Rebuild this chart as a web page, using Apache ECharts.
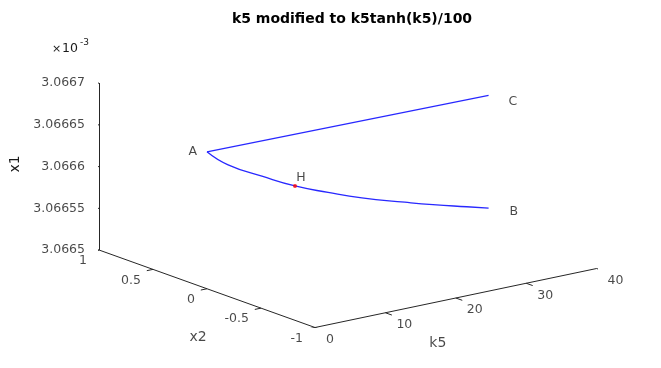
<!DOCTYPE html>
<html><head><meta charset="utf-8">
<script src="https://cdn.jsdelivr.net/npm/echarts@6/dist/echarts.min.js"></script>
<style>html,body{margin:0;padding:0;background:#fff}#c{width:661px;height:368px}</style>
</head><body><div id="c"></div>
<script>
// ---- data (x1 values in units of 1e-3) ----
const k5Lower = [0, 3, 7.8, 12.5, 17.2, 22, 28.1, 32.1, 36.9, 40];
const x2Lower = [0, 0, 0, 0, 0, 0, 0, 0, 0, 0];
const x1Lower = [3.066664, 3.066643, 3.066621, 3.066601, 3.066585, 3.066570, 3.066554, 3.066544, 3.066533, 3.066526];
const k5Upper = [0, 40];
const x2Upper = [0, 0];
const x1Upper = [3.066664, 3.066661];
const pointNames = ['A', 'B', 'C', 'H'];
const pointK5 = [0, 40, 40, 12.5];
const pointX2 = [0, 0, 0, 0];
const pointX1 = [3.066664, 3.066526, 3.066661, 3.066601];
const hopfK5 = [12.5], hopfX2 = [0], hopfX1 = [3.066601];
const k5Ticks = [0, 10, 20, 30, 40];
const x2Ticks = [1, 0.5, 0, -0.5, -1];
const x2TickLabels = ['1', '0.5', '0', '-0.5', '-1'];
const x1Ticks = [3.0665, 3.06655, 3.0666, 3.06665, 3.0667];
const x1TickLabels = ['3.0665', '3.06655', '3.0666', '3.06665', '3.0667'];
const k5Range = [0, 40], x2Range = [-1, 1], x1Range = [3.0665, 3.0667];

// ---- 3D view: screen-plane vectors for a unit step along each normalized axis ----
const U = [281.6, 59], V = [-216, 77.5], W = [0, 167];
function projN(u, v, w) { return [U[0]*u + V[0]*v + W[0]*w, U[1]*u + V[1]*v + W[1]*w]; }
function norm(val, r) { return (val - r[0]) / (r[1] - r[0]); }
function proj(k5, x2, x1) { return projN(norm(k5, k5Range), norm(x2, x2Range), norm(x1, x1Range)); }

const txt = '#1a1a1a';
const axisSegs = [
  [projN(0,1,0), projN(0,1,1)],
  [projN(0,0,0), projN(0,1,0)],
  [projN(0,0,0), projN(1,0,0)]
];
const tickSegs = [];
x1Ticks.forEach(t => { const w = norm(t, x1Range); tickSegs.push([projN(0,1,w), projN(-0.022,1,w)]); });
x2Ticks.forEach(t => { const v = norm(t, x2Range); tickSegs.push([projN(0,v,0), projN(-0.022,v,0)]); });
k5Ticks.forEach(t => { const u = norm(t, k5Range); tickSegs.push([projN(u,0,0), projN(u,-0.03,0)]); });

const font = 'DejaVu Sans';
function lab(pos, text, label) { return { value: pos, name: text, label: Object.assign({ show: true, formatter: '{b}', color: txt, fontFamily: font, fontSize: 12.5 }, label) }; }

const tickLabelData = [];
x1Ticks.forEach((t, i) => tickLabelData.push(lab(projN(0,1,norm(t,x1Range)), x1TickLabels[i], { position: 'left', distance: 14 })));
x2Ticks.forEach((t, i) => tickLabelData.push(lab(projN(0,norm(t,x2Range),0), x2TickLabels[i], { position: 'left', distance: 12, offset: [0, 11] })));
k5Ticks.forEach(t => tickLabelData.push(lab(projN(norm(t,k5Range),0,0), String(t), { position: 'right', distance: 11, offset: [0, 12] })));
tickLabelData.push(lab(projN(0,0.5,0), 'x2', { position: 'inside', offset: [-9, 49], fontSize: 14 }));
tickLabelData.push(lab(projN(0.5,0,0), 'k5', { position: 'inside', offset: [-18, 45], fontSize: 14 }));

const ptLabelCfg = {
  A: { position: 'left', distance: 10 },
  B: { position: 'right', distance: 21, offset: [0, 4] },
  C: { position: 'right', distance: 20, offset: [0, 6] },
  H: { position: 'top', distance: 2, offset: [6, 0] }
};
const ptLabelData = pointNames.map((n, i) => lab(proj(pointK5[i], pointX2[i], pointX1[i]), n, Object.assign({ fontSize: 12.5 }, ptLabelCfg[n])));

const lowerData = k5Lower.map((k, i) => proj(k, x2Lower[i], x1Lower[i]));
const upperData = k5Upper.map((k, i) => proj(k, x2Upper[i], x1Upper[i]));
const hopfData = hopfK5.map((k, i) => proj(k, hopfX2[i], hopfX1[i]));

const xs = [V[0], U[0]], ys = [0, U[1] + V[1] + W[1]];
const chart = echarts.init(document.getElementById('c'));
chart.setOption({
  animation: false,
  title: { text: 'k5 modified to k5tanh(k5)/100', left: 347, textAlign: 'center', top: 7,
    textStyle: { fontFamily: font, fontSize: 14, fontWeight: 'bold', color: '#000' } },
  grid: { left: 99, top: 24, width: xs[1] - xs[0], height: ys[1] - ys[0] },
  xAxis: { type: 'value', min: xs[0], max: xs[1], show: false },
  yAxis: { type: 'value', min: ys[0], max: ys[1], show: false },
  graphic: [
    { type: 'text', x: 15, y: 164, rotation: Math.PI / 2, style: { text: 'x1', fill: txt, font: '14px "DejaVu Sans"', textAlign: 'center', textVerticalAlign: 'middle' } },
    { type: 'text', x: 52, y: 49, style: { text: '×', fill: txt, font: '11px "DejaVu Sans"', textVerticalAlign: 'middle' } },
    { type: 'text', x: 62, y: 49, style: { text: '10', fill: txt, font: '12.5px "DejaVu Sans"', textVerticalAlign: 'middle' } },
    { type: 'text', x: 80, y: 43, style: { text: '-3', fill: txt, font: '9px "DejaVu Sans"', textVerticalAlign: 'middle' } }
  ],
  series: [
    { type: 'lines', coordinateSystem: 'cartesian2d', silent: true, lineStyle: { color: '#262626', width: 1, opacity: 1 },
      data: axisSegs.concat(tickSegs).map(s => ({ coords: s })) },
    { type: 'line', data: lowerData, smooth: 0.5, showSymbol: false, lineStyle: { color: '#2828ff', width: 1.3 } },
    { type: 'line', data: upperData, showSymbol: false, lineStyle: { color: '#2828ff', width: 1.3 } },
    { type: 'scatter', data: hopfData, symbolSize: 4, itemStyle: { color: '#ff0000' }, z: 5 },
    { type: 'scatter', data: tickLabelData, symbolSize: 0, silent: true },
    { type: 'scatter', data: ptLabelData, symbolSize: 0, silent: true }
  ]
});
</script></body></html>
